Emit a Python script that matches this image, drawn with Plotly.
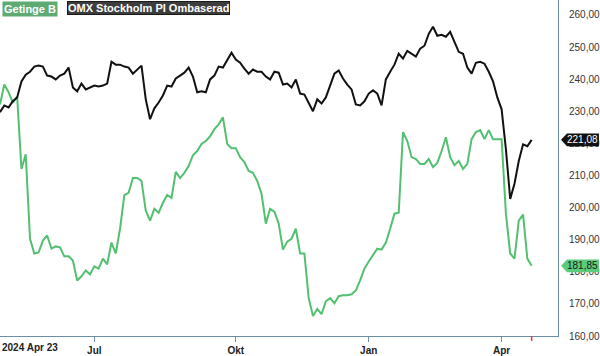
import numpy as np
import pandas as pd
import plotly.graph_objects as go

# ---- data -------------------------------------------------------------
start_date = "2024-04-23"
swedish_holidays = ["2024-05-01", "2024-05-09", "2024-06-06", "2024-06-21",
                    "2024-12-24", "2024-12-25", "2024-12-26", "2024-12-31",
                    "2025-01-01", "2025-01-06", "2025-04-18", "2025-04-21",
                    "2025-05-01"]

omx_rebased = [229.7, 231.8, 231.2, 233.1, 234.3, 239.3, 241.4, 242.3, 243.9, 244.2,
               243.9, 241.1, 240.8, 239.9, 241.1, 241.7, 243.6, 237.4, 236.2, 238.6,
               236.8, 237.4, 238.0, 237.7, 238.0, 238.6, 245.4, 244.5, 244.5, 243.9,
               243.6, 241.7, 243.0, 244.2, 233.7, 227.5, 230.9, 232.7, 234.9, 238.0,
               237.7, 240.2, 241.1, 242.0, 243.6, 240.8, 235.9, 236.2, 235.9, 239.9,
               241.1, 243.9, 243.6, 246.1, 248.2, 246.1, 245.1, 243.3, 241.7, 243.0,
               242.3, 242.3, 240.8, 239.9, 242.3, 242.0, 238.3, 238.6, 237.4, 239.9,
               235.5, 235.2, 232.4, 230.0, 233.7, 232.4, 234.3, 238.0, 241.7, 242.7,
               240.2, 238.3, 236.8, 232.1, 231.8, 233.1, 235.5, 236.5, 235.5, 231.8,
               239.9, 242.3, 244.5, 247.9, 246.4, 248.8, 247.9, 247.0, 249.5, 250.4,
               254.1, 256.3, 253.5, 253.8, 253.2, 254.7, 251.6, 248.5, 247.9, 243.6,
               241.7, 245.1, 245.4, 244.8, 242.3, 239.3, 234.3, 230.6, 218.2, 202.7,
               207.4, 214.5, 219.7, 219.1, 221.08]

getinge_b = [232.1, 238.3, 235.9, 232.7, 234.6, 212.0, 216.6, 190.3, 185.7, 186.0,
             189.7, 191.3, 187.2, 187.9, 187.6, 184.8, 184.8, 183.5, 177.3, 178.6,
             180.4, 179.2, 181.7, 181.0, 184.1, 182.3, 189.1, 185.7, 193.4, 203.9,
             204.6, 209.2, 209.2, 208.3, 199.0, 195.9, 199.6, 198.4, 201.5, 203.9,
             203.0, 211.1, 209.2, 210.8, 212.9, 216.3, 217.6, 219.8, 220.7, 222.2,
             224.4, 225.9, 228.1, 219.8, 218.5, 218.5, 215.7, 214.2, 211.4, 210.8,
             208.3, 204.3, 195.0, 199.6, 198.7, 195.0, 186.9, 189.4, 190.3, 193.4,
             185.7, 185.7, 171.8, 166.2, 168.4, 166.8, 170.8, 171.8, 170.2, 172.4,
             172.7, 172.7, 173.0, 174.2, 177.3, 181.0, 183.2, 185.1, 187.2, 186.9,
             189.1, 193.4, 198.1, 198.4, 223.5, 220.7, 215.7, 215.1, 213.6, 213.6,
             215.1, 212.6, 213.9, 217.6, 221.9, 215.7, 213.2, 214.5, 212.0, 213.6,
             221.3, 223.5, 224.1, 221.3, 224.1, 221.3, 221.3, 221.3, 198.1, 185.7,
             184.1, 195.9, 197.8, 184.1, 181.85]

y_tick_values = [160, 170, 180, 190, 200, 210, 220, 230, 240, 250, 260]
y_tick_labels = ["160,00", "170,00", "180,00", "190,00", "200,00", "210,00",
                 "220,00", "230,00", "240,00", "250,00", "260,00"]
x_tick_months = ["2024-07", "2024-10", "2025-01", "2025-04"]
x_tick_labels = ["Jul", "Okt", "Jan", "Apr"]
start_label = "2024 Apr 23"
names = ["Getinge B", "OMX Stockholm PI Ombaserad"]

# ---- trading calendar --------------------------------------------------
trading_days = pd.bdate_range(start_date, "2025-06-30", freq="C",
                              holidays=swedish_holidays)
sample_dates = trading_days[1:2 * len(omx_rebased):2]
x_idx = trading_days.get_indexer(sample_dates)
month_keys = trading_days.strftime("%Y-%m")
tick_idx = [int(np.argmax(month_keys == m)) for m in x_tick_months]

Y_RANGE = [160, 264.64]
X_RANGE = [1.0, 261.3]

GREEN = "#52c070"
BLACK = "#111111"
AXIS = "#6a8fa8"
FONT = "Arial, Liberation Sans, sans-serif"

fig = go.Figure()
fig.add_trace(go.Scatter(x=x_idx, y=getinge_b, mode="lines", name=names[0],
                         line=dict(color=GREEN, width=2), customdata=sample_dates.strftime("%Y-%m-%d"),
                         hovertemplate="%{customdata}: %{y:.2f}<extra>Getinge B</extra>"))
fig.add_trace(go.Scatter(x=x_idx, y=omx_rebased, mode="lines", name=names[1],
                         line=dict(color=BLACK, width=2), customdata=sample_dates.strftime("%Y-%m-%d"),
                         hovertemplate="%{customdata}: %{y:.2f}<extra>OMX</extra>"))

PLOT_W = 559
PLOT_H = 339


def ypaper(v):
    return (v - Y_RANGE[0]) / (Y_RANGE[1] - Y_RANGE[0])


shapes = []
annotations = []
# end value tags
for val, fill, txtcol in [(omx_rebased[-1], "#111111", "white"),
                          (getinge_b[-1], "#5ccb7c", "#1a1a1a")]:
    yc = ypaper(val)
    hh = 6.5 / PLOT_H
    xa = 562 / PLOT_W
    xb = 568 / PLOT_W
    xe = 600 / PLOT_W
    path = (f"M {xa},{yc} L {xb},{yc + hh} L {xe},{yc + hh} "
            f"L {xe},{yc - hh} L {xb},{yc - hh} Z")
    shapes.append(dict(type="path", xref="paper", yref="paper", path=path,
                       fillcolor=fill, line=dict(width=0), layer="above"))
    annotations.append(dict(xref="paper", yref="paper", x=584 / PLOT_W, y=yc,
                            text=f"{val:.2f}".replace(".", ","), showarrow=False,
                            xanchor="center", yanchor="middle",
                            font=dict(family=FONT, size=10, color=txtcol)))

# last-date red tick
shapes.append(dict(type="line", xref="x", yref="paper",
                   x0=x_idx[-1], x1=x_idx[-1], y0=0, y1=-5 / PLOT_H,
                   line=dict(color="#e0393e", width=1.5)))

# legend boxes
annotations.append(dict(xref="paper", yref="paper", x=2 / PLOT_W, y=1 - 1.5 / PLOT_H,
                        xanchor="left", yanchor="top", text="<b>" + names[0] + "</b>",
                        showarrow=False, bgcolor="#5daa72", borderpad=1,
                        font=dict(family=FONT, size=11, color="white")))
annotations.append(dict(xref="paper", yref="paper", x=67 / PLOT_W, y=1 - 1.5 / PLOT_H,
                        xanchor="left", yanchor="top", text="<b>" + names[1] + "</b>",
                        showarrow=False, bgcolor="#3d3d3d", bordercolor="#1a1a1a",
                        borderwidth=1, borderpad=0,
                        font=dict(family=FONT, size=11, color="white")))
# start-date label
annotations.append(dict(xref="paper", yref="paper", x=0, y=-11.5 / PLOT_H,
                        xanchor="left", yanchor="middle",
                        text="<b>" + start_label + "</b>", showarrow=False,
                        font=dict(family=FONT, size=10, color="#222222")))

fig.update_layout(
    width=600, height=356,
    margin=dict(l=0, r=41, t=0, b=17),
    paper_bgcolor="white", plot_bgcolor="white",
    showlegend=False,
    shapes=shapes, annotations=annotations,
    xaxis=dict(range=X_RANGE, showgrid=False, zeroline=False,
               showline=True, linecolor=AXIS, linewidth=1,
               ticks="outside", ticklen=5, tickcolor=AXIS, tickwidth=1,
               tickvals=tick_idx, ticktext=x_tick_labels,
               tickfont=dict(family=FONT, size=10, color="#222222", weight="bold")),
    yaxis=dict(range=Y_RANGE, side="right", showgrid=False, zeroline=False,
               showline=True, linecolor=AXIS, linewidth=1, ticks="",
               tickvals=y_tick_values, ticktext=y_tick_labels,
               ticklabelstandoff=8,
               tickfont=dict(family=FONT, size=10, color="#333333")),
)

fig.write_html("out.html", config={"displayModeBar": False},
               post_script="document.body.style.margin='0';")
